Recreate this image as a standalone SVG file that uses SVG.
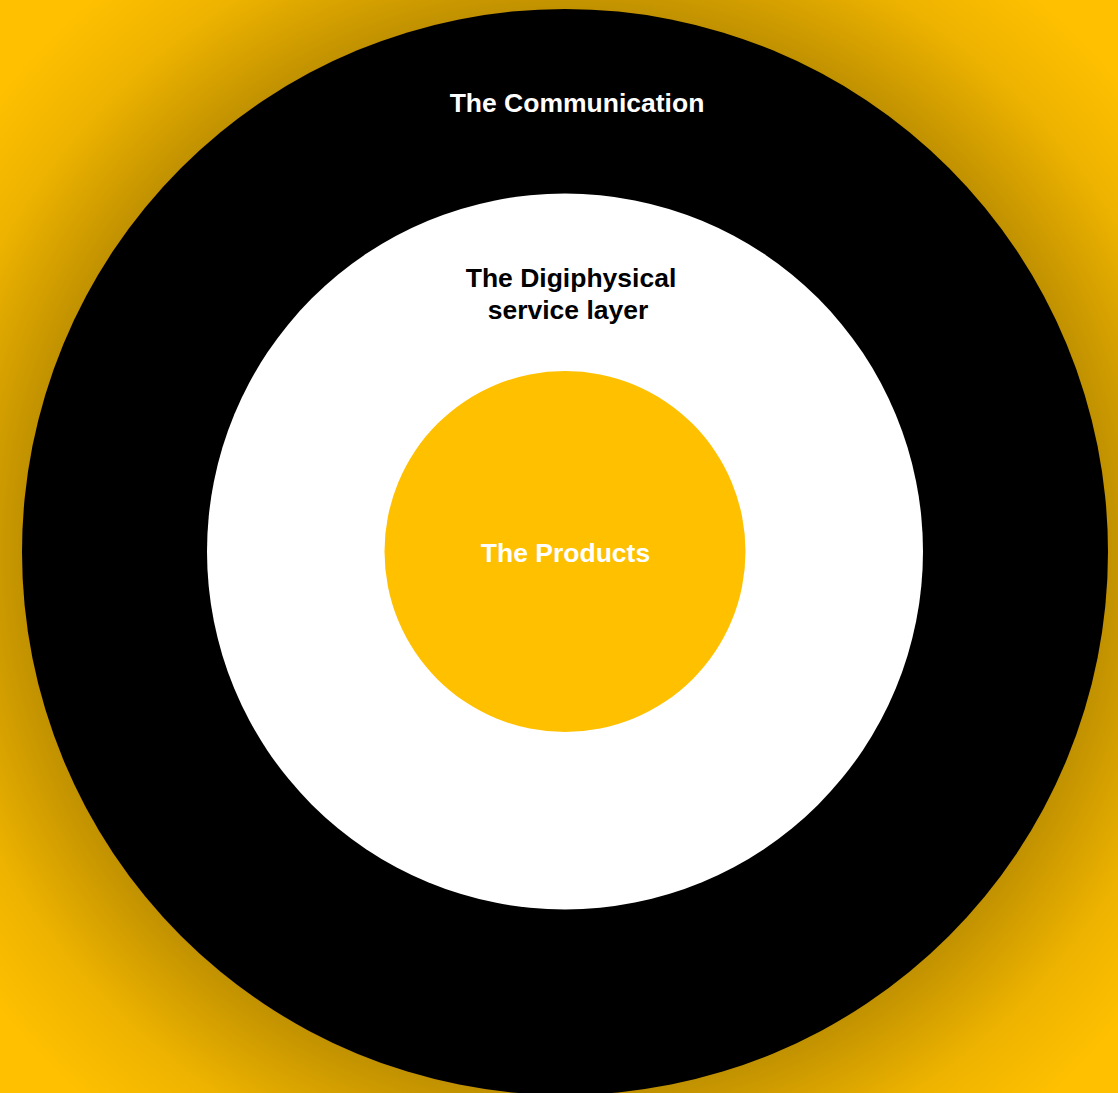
<svg xmlns="http://www.w3.org/2000/svg" width="1118" height="1093" viewBox="0 0 1118 1093">
  <defs>
    <radialGradient id="halo" gradientUnits="userSpaceOnUse" cx="565" cy="552" r="730">
      <stop offset="0.74" stop-color="#000" stop-opacity="0.25"/>
      <stop offset="0.80" stop-color="#000" stop-opacity="0.17"/>
      <stop offset="0.88" stop-color="#000" stop-opacity="0.07"/>
      <stop offset="1" stop-color="#000" stop-opacity="0"/>
    </radialGradient>
  </defs>
  <style>
    .lbl { font-family: "Liberation Sans", Arial, sans-serif; font-weight: bold; font-size: 26.5px; text-anchor: middle; }
    .light { fill: #ffffff; }
    .dark { fill: #000000; }
  </style>
  <rect width="1118" height="1093" fill="#FFC000"/>
  <circle cx="565" cy="552" r="730" fill="url(#halo)"/>
  <g id="communication">
    <circle cx="565" cy="552" r="543" fill="#000000"/>
    <text class="lbl light" x="577" y="112">The Communication</text>
  </g>
  <g id="service-layer">
    <circle cx="565" cy="551.5" r="358" fill="#ffffff"/>
    <text class="lbl dark" x="571" y="287">The Digiphysical</text>
    <text class="lbl dark" x="568" y="319">service layer</text>
  </g>
  <g id="products">
    <circle cx="565" cy="551.5" r="180.5" fill="#FFC000"/>
    <text class="lbl light" x="565.5" y="562">The Products</text>
  </g>
  <g id="connectors"/>
</svg>
